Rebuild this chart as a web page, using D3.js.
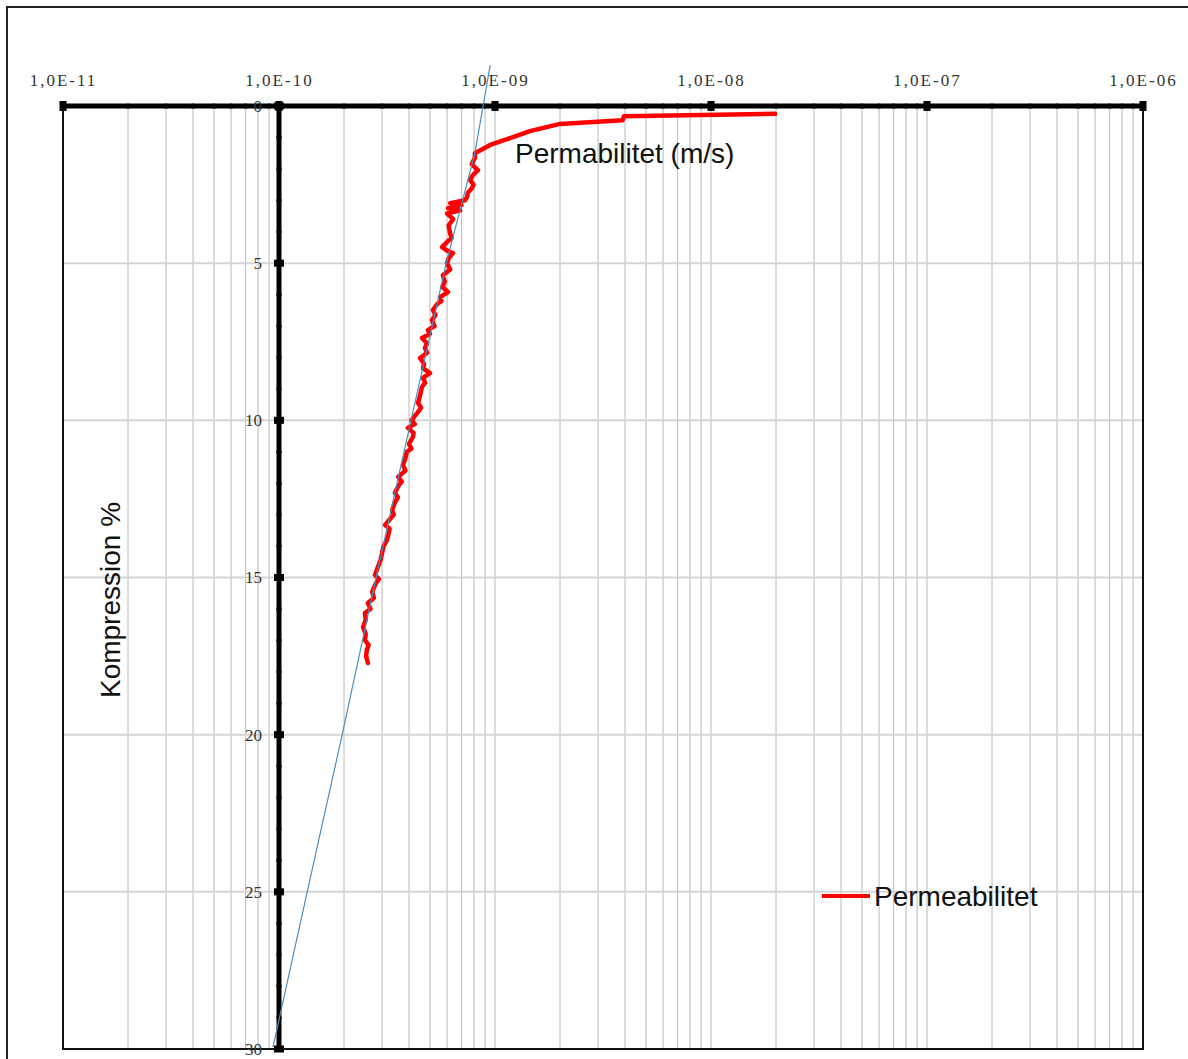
<!DOCTYPE html>
<html>
<head>
<meta charset="utf-8">
<script src="https://cdn.jsdelivr.net/npm/d3@7"></script>
<style>
  body { margin: 0; background: #fff; }
  svg { display: block; }
</style>
</head>
<body>
<svg id="chart"></svg>
<script>
// Kompression (%) and permeability (m/s)
const kompression = [0.25, 0.33, 0.45, 0.57, 0.8, 1.24, 1.5, 1.65, 1.85, 2.04, 2.2, 2.35, 2.5, 2.61, 2.75, 2.9, 3.0, 3.09, 3.15,
  3.25, 3.32, 3.42, 3.6, 3.8, 4.04, 4.2, 4.3, 4.49, 4.6, 4.68, 4.85, 5.0, 5.2, 5.38, 5.6, 5.75, 5.92, 6.08, 6.2, 6.3, 6.49,
  6.65, 6.81, 7.0, 7.13, 7.25, 7.38, 7.55, 7.7, 7.85, 8.02, 8.2, 8.34, 8.5, 8.65, 8.8, 8.94, 9.2, 9.45, 9.6, 9.77, 10.0,
  10.12, 10.24, 10.4, 10.53, 10.75, 10.9, 11.0, 11.2, 11.42, 11.6, 11.8, 11.95, 12.05, 12.2, 12.31, 12.45, 12.6, 12.85,
  13.0, 13.1, 13.33, 13.45, 13.6, 13.81, 14.0, 14.22, 14.45, 14.67, 14.92, 15.05, 15.2, 15.46, 15.65, 15.81, 16.0, 16.13,
  16.35, 16.58, 16.8, 16.99, 17.15, 17.31, 17.5, 17.72];
const permeabilitet = [1.98e-8, 3.95e-9, 3.9e-9, 2.0e-9, 1.45e-9, 9.5e-10, 8.07e-10, 8.07e-10, 7.8e-10, 8.34e-10, 7.9e-10,
  7.66e-10, 7.95e-10, 7.83e-10, 7.5e-10, 7.42e-10, 7.26e-10, 6.2e-10, 7.0e-10, 6.06e-10, 6.9e-10, 6.0e-10, 6.4e-10, 6.1e-10,
  6.19e-10, 6.3e-10, 6.05e-10, 5.69e-10, 6.0e-10, 6.39e-10, 6.1e-10, 6.0e-10, 6.2e-10, 5.74e-10, 5.85e-10, 5.7e-10,
  6.06e-10, 5.56e-10, 5.65e-10, 5.4e-10, 5.16e-10, 5.3e-10, 5.11e-10, 5.25e-10, 4.89e-10, 5.0e-10, 4.59e-10, 4.85e-10,
  4.74e-10, 4.85e-10, 4.5e-10, 4.7e-10, 4.64e-10, 5.0e-10, 4.64e-10, 4.75e-10, 4.59e-10, 4.5e-10, 4.4e-10, 4.55e-10,
  4.36e-10, 4.1e-10, 4.25e-10, 3.95e-10, 4.2e-10, 4.17e-10, 4.0e-10, 4.1e-10, 3.91e-10, 3.85e-10, 3.75e-10, 3.85e-10,
  3.56e-10, 3.7e-10, 3.6e-10, 3.5e-10, 3.44e-10, 3.55e-10, 3.45e-10, 3.34e-10, 3.4e-10, 3.3e-10, 3.1e-10, 3.25e-10,
  3.22e-10, 3.16e-10, 3.05e-10, 3.0e-10, 2.95e-10, 2.87e-10, 2.78e-10, 2.9e-10, 2.8e-10, 2.7e-10, 2.75e-10, 2.58e-10,
  2.65e-10, 2.5e-10, 2.52e-10, 2.45e-10, 2.52e-10, 2.5e-10, 2.6e-10, 2.55e-10, 2.53e-10, 2.58e-10];

// thin trend line
const trendKompression = [-1.3, 1.5, 5.03, 10.02, 15.02, 20.01, 25.01, 29.94];
const trendPermeabilitet = [9.5e-10, 8.07e-10, 5.93e-10, 4.08e-10, 2.81e-10, 1.96e-10, 1.35e-10, 9.38e-11];

const xTickLabels = ['1,0E-11', '1,0E-10', '1,0E-09', '1,0E-08', '1,0E-07', '1,0E-06'];
const xTickValues = [1e-11, 1e-10, 1e-9, 1e-8, 1e-7, 1e-6];
const yTickValues = [0, 5, 10, 15, 20, 25, 30];

const width = 1188, height = 1059;
const margin = { left: 63, right: 1143, top: 106, bottom: 1049 };

const svg = d3.select('#chart').attr('width', width).attr('height', height);

// outer frame
svg.append('rect').attr('x', 7).attr('y', 7).attr('width', 1200).attr('height', 1100)
  .attr('fill', 'none').attr('stroke', '#222').attr('stroke-width', 2);

const x = d3.scaleLog().domain([1e-11, 1e-6]).range([margin.left, margin.right]);
const y = d3.scaleLinear().domain([0, 30]).range([margin.top, margin.bottom]);

// gridlines
const minorX = x.ticks(50);
svg.append('g').selectAll('line').data(minorX).join('line')
  .attr('x1', d => x(d)).attr('x2', d => x(d)).attr('y1', margin.top).attr('y2', margin.bottom)
  .attr('stroke', '#c4c4c4').attr('stroke-width', 1.2);
svg.append('g').selectAll('line').data(yTickValues.slice(1, -1)).join('line')
  .attr('x1', margin.left).attr('x2', margin.right).attr('y1', d => y(d)).attr('y2', d => y(d))
  .attr('stroke', '#d4d4d4').attr('stroke-width', 2);

// plot border
svg.append('path').attr('d', `M${margin.left},${margin.top}V${margin.bottom}H${margin.right}V${margin.top}`)
  .attr('fill', 'none').attr('stroke', '#111').attr('stroke-width', 2);

// x axis (top)
const xAxis = svg.append('g').attr('transform', `translate(0,${margin.top})`)
  .call(d3.axisTop(x).tickValues(xTickValues).tickSize(0).tickPadding(20)
    .tickFormat((d, i) => xTickLabels[i]));
xAxis.select('.domain').remove();
xAxis.selectAll('text').attr('font-family', 'Liberation Serif, serif').attr('font-size', 17)
  .attr('letter-spacing', 2).attr('fill', '#333');
svg.append('line').attr('x1', margin.left).attr('x2', margin.right).attr('y1', margin.top).attr('y2', margin.top)
  .attr('stroke', '#000').attr('stroke-width', 5);
svg.append('g').selectAll('circle').data(minorX.filter(d => !xTickValues.includes(d))).join('circle')
  .attr('cx', d => x(d)).attr('cy', margin.top).attr('r', 2.6).attr('fill', '#000');
svg.append('g').selectAll('rect').data(xTickValues).join('rect')
  .attr('x', d => x(d) - 3.5).attr('y', margin.top - 5).attr('width', 7).attr('height', 10).attr('fill', '#000');

// y axis at 1e-10
const yAxisX = x(1e-10);
const yAxis = svg.append('g').attr('transform', `translate(${yAxisX},0)`)
  .call(d3.axisLeft(y).tickValues(yTickValues).tickSize(0).tickPadding(17));
yAxis.select('.domain').remove();
yAxis.selectAll('text').attr('font-family', 'Liberation Serif, serif').attr('font-size', 17).attr('fill', '#333');
svg.append('line').attr('x1', yAxisX).attr('x2', yAxisX).attr('y1', margin.top).attr('y2', margin.bottom)
  .attr('stroke', '#000').attr('stroke-width', 5);
svg.append('g').selectAll('circle').data(d3.range(1, 30).filter(d => d % 5 != 0)).join('circle')
  .attr('cx', yAxisX).attr('cy', d => y(d)).attr('r', 2.6).attr('fill', '#000');
svg.append('g').selectAll('rect').data(yTickValues).join('rect')
  .attr('x', yAxisX - 5).attr('y', d => y(d) - 3.5).attr('width', 10).attr('height', 7).attr('fill', '#000');

// data line
const line = d3.line().x(d => x(d[1])).y(d => y(d[0]));
svg.append('path').datum(d3.zip(kompression, permeabilitet))
  .attr('d', line).attr('fill', 'none').attr('stroke', '#ff0000')
  .attr('stroke-width', 4.5).attr('stroke-linejoin', 'round').attr('stroke-linecap', 'round');

// trend line
svg.append('path').datum(d3.zip(trendKompression, trendPermeabilitet))
  .attr('d', line).attr('fill', 'none').attr('stroke', '#4a8fc4').attr('stroke-width', 1.2);

// titles
svg.append('text').attr('x', 515).attr('y', 163).text('Permabilitet (m/s)')
  .attr('font-family', 'Liberation Sans, Arial, sans-serif').attr('font-size', 28).attr('fill', '#111');
svg.append('text').attr('transform', 'translate(120,600) rotate(-90)').attr('text-anchor', 'middle')
  .text('Kompression %').attr('font-family', 'Liberation Sans, Arial, sans-serif').attr('font-size', 28).attr('fill', '#111');

// legend
svg.append('line').attr('x1', 822).attr('x2', 870).attr('y1', 896).attr('y2', 896)
  .attr('stroke', '#ff0000').attr('stroke-width', 4);
svg.append('text').attr('x', 874).attr('y', 906).text('Permeabilitet')
  .attr('font-family', 'Liberation Sans, Arial, sans-serif').attr('font-size', 28).attr('fill', '#111');
</script>
</body>
</html>
